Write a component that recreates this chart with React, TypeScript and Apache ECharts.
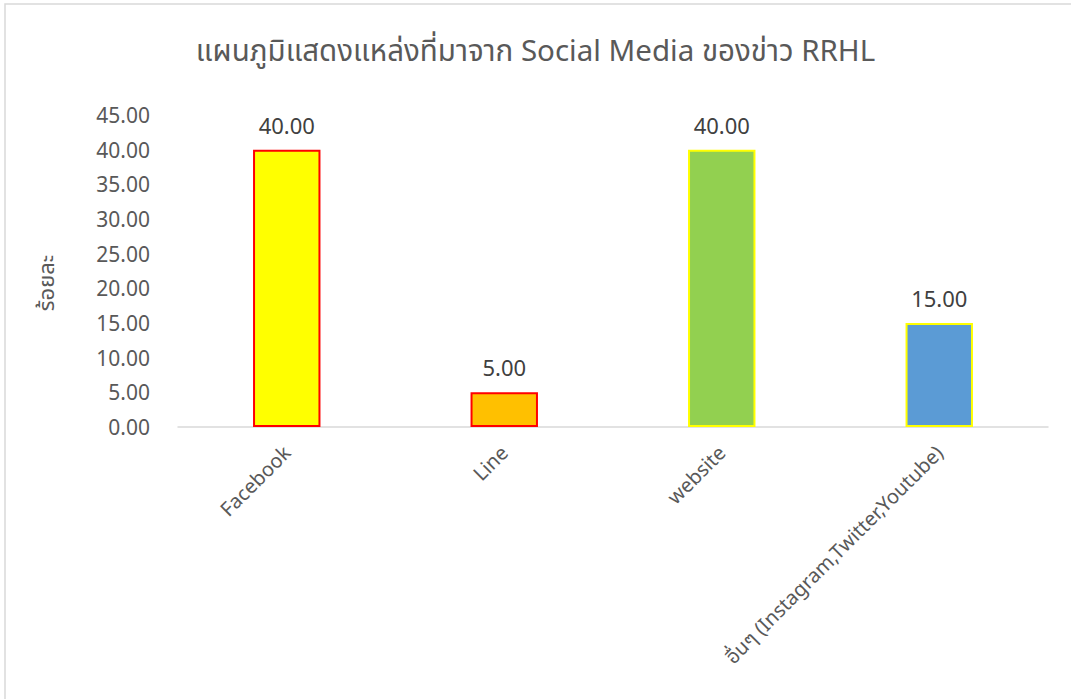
import React, { useEffect, useRef } from "react";
import * as echarts from "echarts";

const TITLE = "แผนภูมิแสดงแหล่งที่มาจาก Social Media ของข่าว RRHL";
const Y_NAME = "ร้อยละ";
const categories = ["Facebook", "Line", "website", "อื่นๆ (Instagram,Twitter,Youtube)"];
const values = [40, 5, 40, 15];
const fillColors = ["#FFFF00", "#FFC000", "#92D050", "#5B9BD5"];
const borderColors = ["#FF0000", "#FF0000", "#FFFF00", "#FFFF00"];

const FONT = "'Noto Sans', 'Noto Sans Thai', 'Open Sans', sans-serif";

export default function App() {
  const ref = useRef<HTMLDivElement>(null);
  useEffect(() => {
    document.body.style.margin = "0";
    const chart = echarts.init(ref.current!, undefined, { renderer: "svg" });
    chart.setOption({
      animation: false,
      backgroundColor: "#ffffff",
      textStyle: { fontFamily: FONT },
      title: {
        text: TITLE,
        left: "center",
        top: 29,
        textStyle: { fontSize: 29.5, fontWeight: "normal", color: "#595959", fontFamily: FONT },
      },
      graphic: [
        {
          type: "rect",
          shape: { x: 5, y: 4, width: 1200, height: 800 },
          style: { fill: "none", stroke: "#d9d9d9", lineWidth: 1.5 },
          silent: true,
        },
        {
          type: "text",
          x: 45,
          y: 283,
          rotation: Math.PI / 2,
          style: {
            text: Y_NAME,
            fontSize: 22,
            fill: "#595959",
            align: "center",
            verticalAlign: "middle",
            fontFamily: FONT,
          },
        },
      ],
      grid: { left: 178, right: 23, top: 115, bottom: 272, containLabel: false },
      xAxis: {
        type: "category",
        data: categories,
        axisLine: { lineStyle: { color: "#d9d9d9", width: 1.5 } },
        axisTick: { show: false },
        axisLabel: {
          rotate: 45,
          fontSize: 20,
          color: "#595959",
          interval: 0,
          margin: 22,
          fontFamily: FONT,
        },
      },
      yAxis: {
        type: "value",
        min: 0,
        max: 45,
        interval: 5,
        splitLine: { show: false },
        axisLine: { show: false },
        axisTick: { show: false },
        axisLabel: {
          fontSize: 21,
          color: "#595959",
          margin: 28,
          formatter: (v: number) => v.toFixed(2),
          fontFamily: FONT,
        },
      },
      series: [
        {
          type: "bar",
          barWidth: "31%",
          data: values.map((v, i) => ({
            value: v,
            itemStyle: { color: fillColors[i], borderColor: borderColors[i], borderWidth: 2 },
          })),
          label: {
            show: true,
            position: "top",
            distance: 14,
            fontSize: 22,
            color: "#404040",
            formatter: (p: any) => Number(p.value).toFixed(2),
            fontFamily: FONT,
          },
        },
      ],
    });
    return () => chart.dispose();
  }, []);
  return <div ref={ref} style={{ width: 1071, height: 699 }} />;
}
